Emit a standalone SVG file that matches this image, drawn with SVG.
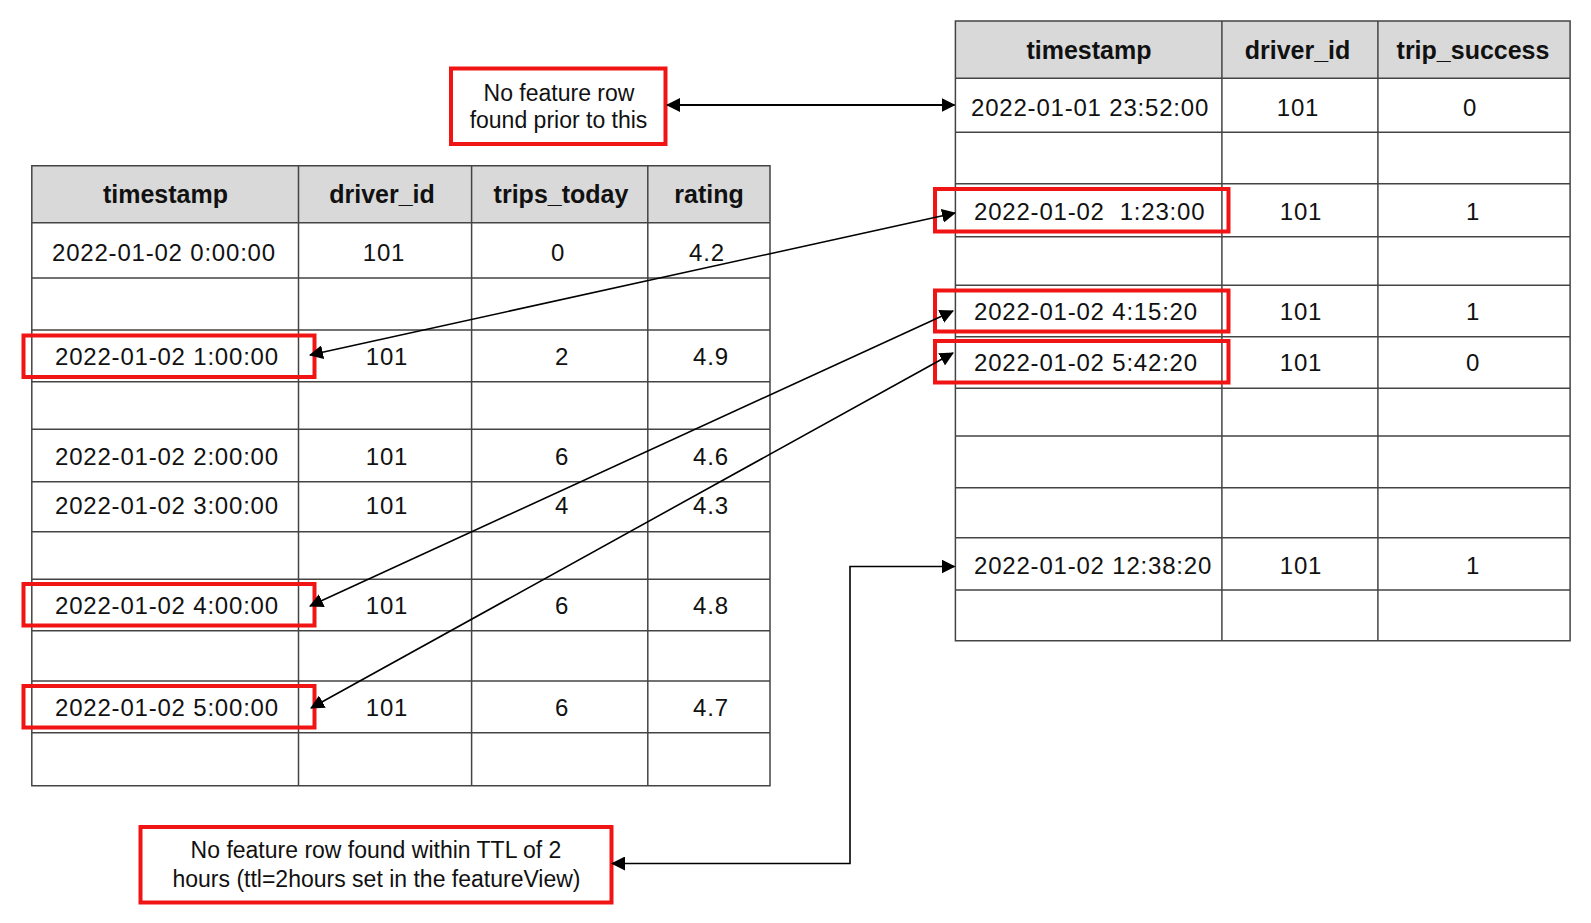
<svg xmlns="http://www.w3.org/2000/svg" width="1591" height="923" viewBox="0 0 1591 923">
<style>
.bg{fill:#ffffff}
.hdr{fill:#d9d9d9}
.grid{stroke:#444;stroke-width:1.5;fill:none}
.h{font-family:"Liberation Sans",Arial,sans-serif;font-weight:bold;font-size:25px;fill:#111;text-anchor:middle}
.d{font-family:"Liberation Sans",Arial,sans-serif;font-size:24px;fill:#111;letter-spacing:0.8px;white-space:pre}
.c{text-anchor:middle}
.note{font-family:"Liberation Sans",Arial,sans-serif;font-size:23px;fill:#111;text-anchor:middle}
.red{fill:none;stroke:#f01414;stroke-width:4}
.redf{fill:#fff;stroke:#f01414;stroke-width:4}
.conn{fill:none;stroke:#000;stroke-width:1.6}
.conn2{fill:none;stroke:#000;stroke-width:2}
</style>
<defs>
<marker id="ah" viewBox="0 0 14 14" refX="13" refY="7" markerWidth="14" markerHeight="14" markerUnits="userSpaceOnUse" orient="auto-start-reverse">
<path d="M0,0 L14,7 L0,14 Z" fill="#000"/>
</marker>
</defs>
<rect class="bg" x="0" y="0" width="1591" height="923"/>

<g id="feature-table">
<rect class="hdr" x="31.8" y="165.7" width="738.2" height="57"/>
<path class="grid" d="M31.8,165.7 H770 V785.7 H31.8 Z M298.5,165.7 V785.7 M471.6,165.7 V785.7 M647.8,165.7 V785.7 M31.8,222.7 H770 M31.8,278 H770 M31.8,330 H770 M31.8,381.7 H770 M31.8,429.3 H770 M31.8,481.7 H770 M31.8,531.7 H770 M31.8,579.3 H770 M31.8,630.7 H770 M31.8,681 H770 M31.8,732.7 H770"/>
<text class="h" x="165.5" y="203">timestamp</text>
<text class="h" x="382" y="203">driver_id</text>
<text class="h" x="561" y="203">trips_today</text>
<text class="h" x="709" y="203">rating</text>

<text class="d" x="52" y="260.5">2022-01-02 0:00:00</text>
<text class="d c" x="384" y="260.5">101</text>
<text class="d c" x="558" y="260.5">0</text>
<text class="d c" x="707" y="260.5">4.2</text>

<text class="d" x="55" y="365">2022-01-02 1:00:00</text>
<text class="d c" x="387" y="365">101</text>
<text class="d c" x="562" y="365">2</text>
<text class="d c" x="711" y="365">4.9</text>

<text class="d" x="55" y="465">2022-01-02 2:00:00</text>
<text class="d c" x="387" y="465">101</text>
<text class="d c" x="562" y="465">6</text>
<text class="d c" x="711" y="465">4.6</text>

<text class="d" x="55" y="514">2022-01-02 3:00:00</text>
<text class="d c" x="387" y="514">101</text>
<text class="d c" x="562" y="514">4</text>
<text class="d c" x="711" y="514">4.3</text>

<text class="d" x="55" y="613.5">2022-01-02 4:00:00</text>
<text class="d c" x="387" y="613.5">101</text>
<text class="d c" x="562" y="613.5">6</text>
<text class="d c" x="711" y="613.5">4.8</text>

<text class="d" x="55" y="716">2022-01-02 5:00:00</text>
<text class="d c" x="387" y="716">101</text>
<text class="d c" x="562" y="716">6</text>
<text class="d c" x="711" y="716">4.7</text>

<rect class="red" x="23.5" y="335.5" width="291" height="41.5"/>
<rect class="red" x="23.5" y="584" width="291" height="41.5"/>
<rect class="red" x="23.5" y="686" width="291" height="41.5"/>
</g>

<g id="label-table">
<rect class="hdr" x="955.4" y="21" width="614.7" height="57.3"/>
<path class="grid" d="M955.4,21 H1570.1 V640.7 H955.4 Z M1221.9,21 V640.7 M1377.9,21 V640.7 M955.4,78.3 H1570.1 M955.4,132.3 H1570.1 M955.4,183.7 H1570.1 M955.4,236.7 H1570.1 M955.4,285.3 H1570.1 M955.4,336.7 H1570.1 M955.4,388.3 H1570.1 M955.4,436 H1570.1 M955.4,487.7 H1570.1 M955.4,537.7 H1570.1 M955.4,590 H1570.1"/>
<text class="h" x="1089" y="59">timestamp</text>
<text class="h" x="1297.5" y="59">driver_id</text>
<text class="h" x="1473" y="59">trip_success</text>

<text class="d" x="971" y="116">2022-01-01 23:52:00</text>
<text class="d c" x="1298" y="116">101</text>
<text class="d c" x="1470" y="116">0</text>

<text class="d" x="974" y="220">2022-01-02  1:23:00</text>
<text class="d c" x="1301" y="220">101</text>
<text class="d c" x="1473" y="220">1</text>

<text class="d" x="974" y="319.5">2022-01-02 4:15:20</text>
<text class="d c" x="1301" y="319.5">101</text>
<text class="d c" x="1473" y="319.5">1</text>

<text class="d" x="974" y="371">2022-01-02 5:42:20</text>
<text class="d c" x="1301" y="371">101</text>
<text class="d c" x="1473" y="371">0</text>

<text class="d" x="974" y="573.5">2022-01-02 12:38:20</text>
<text class="d c" x="1301" y="573.5">101</text>
<text class="d c" x="1473" y="573.5">1</text>

<rect class="red" x="935" y="189" width="293.5" height="42.5"/>
<rect class="red" x="935" y="290.5" width="293.5" height="41"/>
<rect class="red" x="935" y="341" width="293.5" height="41.5"/>
</g>

<g id="note-prior">
<rect class="redf" x="451" y="68.5" width="214.5" height="75.5"/>
<text class="note" x="559" y="100.5">No feature row</text>
<text class="note" x="558.5" y="128">found prior to this</text>
</g>

<g id="note-ttl">
<rect class="redf" x="140.5" y="827" width="471" height="75.5"/>
<text class="note" x="376" y="858">No feature row found within TTL of 2</text>
<text class="note" x="376.5" y="887">hours (ttl=2hours set in the featureView)</text>
</g>

<g id="connectors">
<path class="conn2" d="M667,105 H954.5" marker-start="url(#ah)" marker-end="url(#ah)"/>
<path class="conn" d="M955,213 L310,355" marker-start="url(#ah)" marker-end="url(#ah)"/>
<path class="conn" d="M953,311 L310,606" marker-start="url(#ah)" marker-end="url(#ah)"/>
<path class="conn" d="M953,353 L311,708" marker-start="url(#ah)" marker-end="url(#ah)"/>
<path class="conn" d="M612,863.5 H850 V566.5 H954.5" marker-start="url(#ah)" marker-end="url(#ah)"/>
</g>
</svg>
